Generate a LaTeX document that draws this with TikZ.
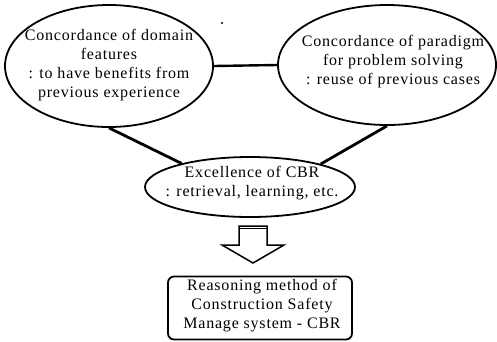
\documentclass[tikz,border=0pt]{standalone}
\usepackage{fontspec}
\setmainfont{Liberation Serif}[LetterSpace=5.0]
\usetikzlibrary{shapes.geometric}
\begin{document}
\begin{tikzpicture}[x=1pt,y=-1pt,
  oval/.style={ellipse, draw, line width=1.8pt, inner sep=0pt},
  lbl/.style={align=center, inner sep=0pt, font=\fontsize{16}{19}\selectfont},
  link/.style={line width=2.8pt},
  box/.style={draw, line width=1.8pt, rounded corners=6pt, inner sep=0pt}]
\useasboundingbox (0,0) rectangle (497,341);
% ellipses
\node[oval, minimum width=208pt, minimum height=122pt] (L) at (109,66) {};
\node[lbl] (Lt) at (109,65) {Concordance of domain\\features\\: to have benefits from\\previous experience};
\node[oval, minimum width=218pt, minimum height=120pt] (R) at (387,65) {};
\node[lbl] (Rt) at (393,62) {Concordance of paradigm\\for problem solving\\: reuse of previous cases};
\node[oval, minimum width=210pt, minimum height=60pt] (B) at (250,187) {};
\node[lbl] (Bt) at (252,183) {Excellence of CBR\\: retrieval, learning, etc.};
% box
\node[box, minimum width=184pt, minimum height=63pt] (X) at (260,308) {};
\node[lbl] (Xt) at (262,306) {Reasoning method of\\Construction Safety\\Manage system - CBR};
% connectors
\draw[line width=2.4pt] (L.east) -- (R.west);
\draw[link] (L.south) -- (B.161);
\draw[link] (R.south) -- (B.18);
% block arrow
\draw[line width=1.5pt, line join=miter] (239,245) -- (239,226) -- (267,226) -- (267,245) -- (284,245) -- (253,263) -- (222,245) -- cycle;
\draw[line width=1.3pt] (239,228.5) -- (267,228.5);
% speck
\fill (222,23) circle (1.2pt);
\end{tikzpicture}
\end{document}
